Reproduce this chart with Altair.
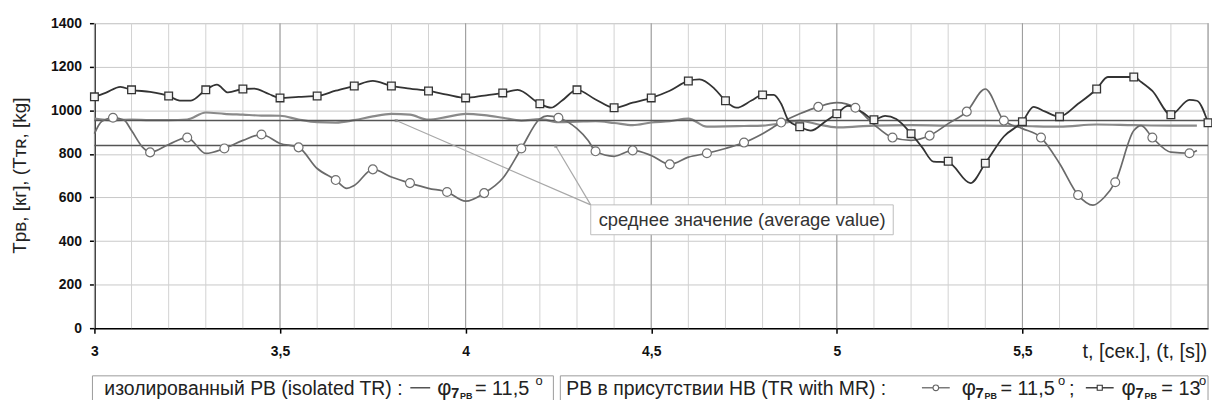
import altair as alt
import pandas as pd
import numpy as np

FONT = "Liberation Sans"

# ---- series: isolated tail rotor, phi = 11.5 deg
ISO_T = [3.00, 3.05, 3.10, 3.15, 3.20, 3.25, 3.30, 3.35, 3.40, 3.45, 3.50, 3.55, 3.60, 3.65, 3.70,
         3.75, 3.80, 3.85, 3.90, 3.95, 4.00, 4.05, 4.10, 4.15, 4.20, 4.25, 4.30, 4.35, 4.40, 4.45,
         4.50, 4.55, 4.60, 4.65, 4.70, 4.75, 4.80, 4.85, 4.90, 4.95, 5.00, 5.05, 5.10, 5.20, 5.30,
         5.40, 5.50, 5.60, 5.70, 5.80, 5.90, 5.97]
ISO_Y = [962, 955, 957, 955, 955, 958, 990, 984, 980, 976, 975, 958, 946, 944, 955,
         972, 984, 980, 957, 970, 984, 978, 966, 953, 960, 946, 948, 950, 942, 932,
         944, 950, 962, 925, 926, 928, 930, 940, 953, 935, 922, 925, 930, 932, 930,
         930, 928, 925, 935, 932, 930, 930]

# ---- series: TR with MR, phi = 11.5 deg (circles)
CIR_T = [3.00, 3.02, 3.05, 3.08, 3.10, 3.13, 3.15, 3.20, 3.25, 3.30, 3.35, 3.40, 3.45, 3.50, 3.55,
         3.60, 3.65, 3.68, 3.70, 3.75, 3.80, 3.85, 3.90, 3.95, 4.00, 4.05, 4.10, 4.15, 4.20, 4.22,
         4.25, 4.30, 4.33, 4.35, 4.40, 4.45, 4.50, 4.55, 4.60, 4.65, 4.70, 4.75, 4.80, 4.85, 4.90,
         4.95, 5.00, 5.05, 5.10, 5.15, 5.20, 5.25, 5.30, 5.35, 5.40, 5.45, 5.50, 5.55, 5.60, 5.65,
         5.69, 5.72, 5.75, 5.80, 5.82, 5.85, 5.90, 5.95, 5.97]
CIR_Y = [893, 950, 966, 955, 907, 830, 807, 843, 875, 802, 825, 862, 889, 848, 830,
         733, 680, 642, 655, 729, 694, 666, 642, 625, 583, 620, 688, 825, 961, 975,
         966, 916, 862, 812, 789, 816, 793, 752, 785, 803, 825, 852, 893, 944, 984,
         1016, 1035, 1012, 935, 875, 862, 884, 939, 994, 1098, 953, 916, 875, 756, 611,
         565, 600, 670, 907, 930, 875, 808, 803, 816]
CIR_MK_T = [3.05, 3.15, 3.25, 3.35, 3.45, 3.55, 3.65, 3.75, 3.85, 3.95, 4.05, 4.15, 4.25, 4.35, 4.45,
            4.55, 4.65, 4.75, 4.85, 4.95, 5.05, 5.15, 5.25, 5.35, 5.45, 5.55, 5.65, 5.75, 5.85, 5.95]
CIR_MK_Y = [966, 807, 875, 825, 889, 830, 680, 729, 666, 625, 620, 825, 966, 812, 816,
            752, 803, 852, 944, 1016, 1012, 875, 884, 994, 953, 875, 611, 670, 875, 803]

# ---- series: TR with MR, phi = 13 deg (squares)
SQ_T = [3.00, 3.03, 3.07, 3.10, 3.15, 3.20, 3.23, 3.26, 3.30, 3.33, 3.36, 3.40, 3.43, 3.47, 3.50,
        3.55, 3.60, 3.65, 3.70, 3.75, 3.80, 3.85, 3.90, 3.95, 4.00, 4.05, 4.10, 4.14, 4.20, 4.23,
        4.26, 4.30, 4.35, 4.40, 4.45, 4.50, 4.55, 4.60, 4.63, 4.67, 4.70, 4.73, 4.77, 4.80, 4.83,
        4.85, 4.87, 4.90, 4.93, 4.97, 5.00, 5.03, 5.07, 5.10, 5.13, 5.16, 5.20, 5.23, 5.26, 5.30,
        5.36, 5.40, 5.45, 5.50, 5.53, 5.56, 5.60, 5.65, 5.70, 5.73, 5.80, 5.82, 5.85, 5.90, 5.95,
        5.97, 6.00]
SQ_Y = [1062, 1080, 1108, 1094, 1085, 1066, 1045, 1045, 1094, 1118, 1082, 1098, 1100, 1075, 1057,
        1062, 1066, 1090, 1112, 1135, 1112, 1100, 1089, 1072, 1057, 1068, 1080, 1094, 1030, 1012,
        1045, 1094, 1050, 1012, 1035, 1057, 1090, 1135, 1142, 1100, 1044, 1012, 1045, 1071, 1071,
        1030, 953, 925, 907, 950, 984, 1020, 990, 957, 975, 960, 893, 830, 765, 761,
        666, 757, 880, 948, 1016, 995, 971, 1030, 1098, 1153, 1153, 1130, 1089, 980, 1048,
        1044, 943]
SQ_MK_T = [3.0, 3.1, 3.2, 3.3, 3.4, 3.5, 3.6, 3.7, 3.8, 3.9, 4.0, 4.1, 4.2, 4.3, 4.4, 4.5,
           4.6, 4.7, 4.8, 4.9, 5.0, 5.1, 5.2, 5.3, 5.4, 5.5, 5.6, 5.7, 5.8, 5.9, 6.0]
SQ_MK_Y = [1062, 1094, 1066, 1094, 1098, 1057, 1066, 1112, 1112, 1089, 1057, 1080, 1030, 1094, 1012, 1057,
           1135, 1044, 1071, 925, 984, 957, 893, 766, 757, 948, 971, 1098, 1153, 980, 943]

# ---- average values
AVG = [953, 839]
# annotation: leader start points and label box (data units)
LEAD_T = [3.813, 4.243]
LEAD_Y = [953, 835]
BOX_T = [4.337, 5.152]
BOX_Y = [566, 429]
ANN_TEXT = "среднее значение (average value)"

X_TICKS = [3, 3.5, 4, 4.5, 5, 5.5]
Y_TICKS = [0, 200, 400, 600, 800, 1000, 1200, 1400]

W, H = 1121, 307
xs = alt.Scale(domain=[3, 6], nice=False, zero=False)
ys = alt.Scale(domain=[0, 1400], nice=False, zero=True)

x_axis = alt.Axis(values=X_TICKS, grid=False,
                  labelExpr="replace(format(datum.value, '.1~f'), '.', ',')",
                  labelFont=FONT, labelFontWeight="bold", labelFontSize=14, labelColor="#111",
                  labelPadding=12, domainColor="#000", domainWidth=1.6, tickColor="#000",
                  tickSize=5, tickWidth=1.5, title=None, labelFlush=False)
y_axis = alt.Axis(values=Y_TICKS, grid=True, gridColor="#c9c9c9", gridWidth=1, format="d",
                  labelFont=FONT, labelFontWeight="bold", labelFontSize=14, labelColor="#111",
                  labelPadding=8, domainColor="#000", domainWidth=1.6, tickColor="#000",
                  tickSize=5, tickWidth=1.5,
                  title="Tрв, [кг], (Tᴛʀ, [kg]", titleFont=FONT, titleFontSize=19,
                  titleFontWeight="normal", titleColor="#222", titleX=-75, titleY=153,
                  titleAngle=270, titleAlign="center", titleBaseline="middle")

X = lambda f="t": alt.X(f + ":Q", scale=xs, axis=x_axis)
Y = lambda f="v": alt.Y(f + ":Q", scale=ys, axis=y_axis)

minor = pd.DataFrame({"t": np.round(np.arange(30, 61) / 10, 1)})
major = pd.DataFrame({"t": [3.0, 3.5, 4.0, 4.5, 5.0, 5.5, 6.0]})

g_minor = alt.Chart(minor).mark_rule(color="#d2d2d2", strokeWidth=1).encode(x=X())
g_major = alt.Chart(major).mark_rule(color="#9a9a9a", strokeWidth=1).encode(x=X())

iso = pd.DataFrame({"t": ISO_T, "v": ISO_Y})
cir = pd.DataFrame({"t": CIR_T, "v": CIR_Y})
sq = pd.DataFrame({"t": SQ_T, "v": SQ_Y})
cir_mk = pd.DataFrame({"t": CIR_MK_T, "v": CIR_MK_Y})
sq_mk = pd.DataFrame({"t": SQ_MK_T, "v": SQ_MK_Y})

avg_df = pd.DataFrame({"v": AVG})
avg = alt.Chart(avg_df).mark_rule(color="#555", strokeWidth=1.5).encode(y=Y())

l_iso = alt.Chart(iso).mark_line(color="#8a8a8a", strokeWidth=2.2, interpolate="monotone").encode(x=X(), y=Y())
l_cir = alt.Chart(cir).mark_line(color="#6a6a6a", strokeWidth=1.7, interpolate="monotone").encode(x=X(), y=Y())
l_sq = alt.Chart(sq).mark_line(color="#333", strokeWidth=1.8, interpolate="monotone").encode(x=X(), y=Y())
p_cir = alt.Chart(cir_mk).mark_point(shape="circle", filled=True, fill="white", stroke="#707070",
                                     strokeWidth=1.2, size=80, opacity=1).encode(x=X(), y=Y())
p_sq = alt.Chart(sq_mk).mark_point(shape="square", filled=True, fill="#f4f4f4", stroke="#333",
                                   strokeWidth=1.3, size=60, opacity=1).encode(x=X(), y=Y())

lead = pd.DataFrame({"t": LEAD_T, "v": LEAD_Y, "t2": [BOX_T[0]] * 2, "v2": [BOX_Y[0]] * 2})
l_lead = alt.Chart(lead).mark_rule(color="#a8a8a8", strokeWidth=1.2).encode(
    x=X(), y=Y(), x2="t2:Q", y2="v2:Q")
p_lead = alt.Chart(lead).mark_point(shape="square", filled=True, color="#888", size=10).encode(x=X(), y=Y())

box = pd.DataFrame({"t": [BOX_T[0]], "t2": [BOX_T[1]], "v": [BOX_Y[0]], "v2": [BOX_Y[1]]})
r_box = alt.Chart(box).mark_rect(fill="white", stroke="#bdbdbd", strokeWidth=1).encode(
    x=X(), x2="t2:Q", y=Y(), y2="v2:Q")
t_box = alt.Chart(pd.DataFrame({"t": [BOX_T[0]], "v": [(BOX_Y[0] + BOX_Y[1]) / 2], "s": [ANN_TEXT]})).mark_text(
    align="left", baseline="middle", dx=8, font=FONT, fontSize=18.5, color="#333").encode(
    x=X(), y=Y(), text="s:N")

one = pd.DataFrame({"k": [0]})


def txt(s, x, y, size=20, weight="normal", align="left", color="#222", baseline="alphabetic"):
    return alt.Chart(one).mark_text(text=s, fontSize=size, fontWeight=weight, align=align,
                                    baseline=baseline, color=color, font=FONT).encode(
        x=alt.value(x), y=alt.value(y))


def rect(x, x2, y, y2):
    return alt.Chart(one).mark_rect(fill="white", stroke="#9a9a9a", strokeWidth=1).encode(
        x=alt.value(x), x2=alt.value(x2), y=alt.value(y), y2=alt.value(y2))


def hline(x, x2, y, color="#333", w=1.3):
    return alt.Chart(one).mark_rule(color=color, strokeWidth=w).encode(
        x=alt.value(x), x2=alt.value(x2), y=alt.value(y))


def mk(shape, x, y, stroke, size):
    return alt.Chart(one).mark_point(shape=shape, filled=True, fill="white", stroke=stroke,
                                     strokeWidth=1.1, size=size, opacity=1).encode(
        x=alt.value(x), y=alt.value(y))


def phi(xp, x7, xr, xe, xo, y0, val):
    return [
        txt("φ", xp, y0, size=22),
        txt("7", x7, y0 + 3, size=15, weight="bold"),
        txt("РВ", xr, y0 + 4, size=9, weight="bold"),
        txt("= " + val, xe, y0, size=20),
        txt("o", xo, y0 - 10, size=13),
    ]


LY = 374      # text baseline (plot px)
SY = 367      # legend sample line y
legend = [
    rect(-2, 462, 355, 400),
    rect(469, 1121, 355, 400),
    txt("изолированный РВ (isolated TR) :", 10, LY, size=19.5),
    hline(318, 338, SY, color="#444", w=1.4),
    *phi(345, 359, 368, 383, 444, LY, "11,5"),
    txt("РВ в присутствии НВ (TR with MR) :", 475, LY, size=19.5),
    hline(833, 861, SY, color="#666", w=1.3),
    mk("circle", 847, SY, "#666", 32),
    *phi(873, 887, 896, 912, 970, LY, "11,5"),
    txt(";", 981, LY),
    hline(998, 1026, SY, color="#333", w=1.4),
    mk("square", 1012, SY, "#333", 26),
    *phi(1034, 1048, 1057, 1074, 1112, LY, "13"),
    txt("t, [сек.], (t, [s])", 1120, 337, align="right"),
]

chart = alt.layer(
    g_minor, g_major, l_iso, avg, l_lead, p_lead, l_cir, l_sq, p_cir, p_sq, r_box, t_box, *legend
).properties(
    width=W, height=H,
    padding={"left": 87, "top": 14, "right": 4, "bottom": 71},
    autosize=alt.AutoSizeParams(type="none"),
).configure_view(stroke=None).configure(background="white")

chart.save("out.html", embed_options={"renderer": "svg", "actions": False})
